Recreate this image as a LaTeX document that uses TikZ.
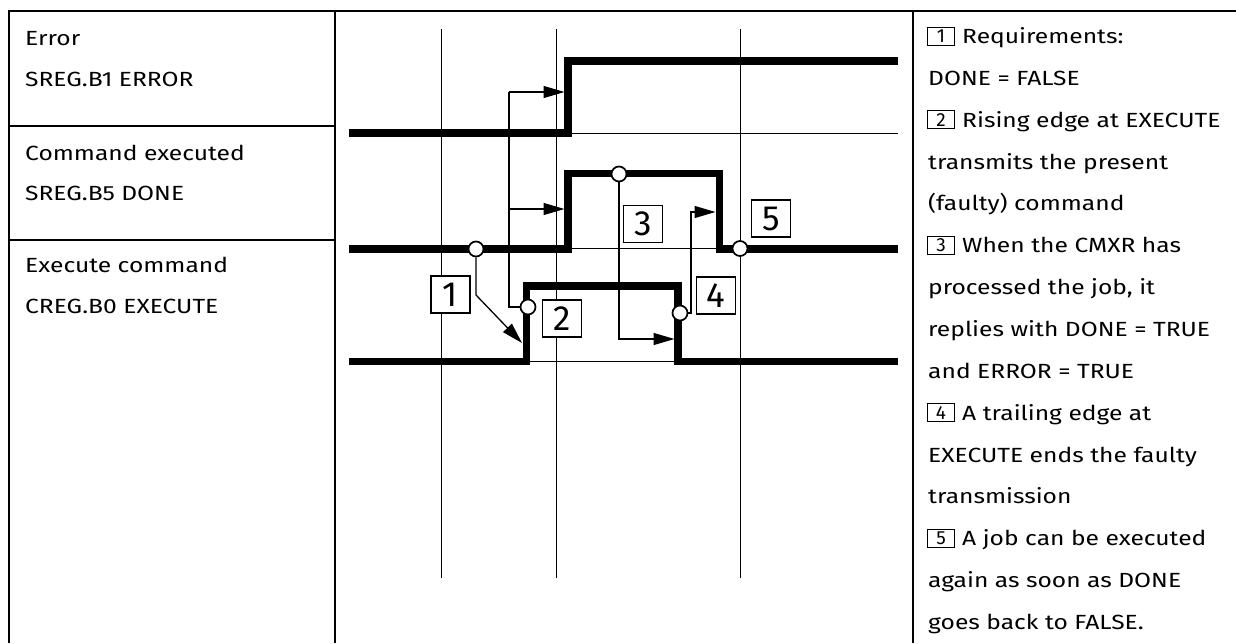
\documentclass[tikz,border=0pt]{standalone}
\usepackage{fontspec}
\setmainfont{Fira Sans}[FakeStretch=1.2]
\newfontfamily\digitfont{Fira Sans}
\usetikzlibrary{arrows.meta}
\begin{document}
\begin{tikzpicture}[x=1pt,y=-1pt,
  sig/.style={line width=7.4pt, line cap=butt, line join=miter},
  base/.style={line width=1pt},
  gridline/.style={line width=1pt},
  frame/.style={line width=2.2pt},
  lead/.style={line width=1.3pt},
  arr/.style={line width=1.3pt, -{Triangle[length=21pt,width=12pt]}},
  dot/.style={circle, draw, fill=white, line width=1.7pt, minimum size=15pt, inner sep=0pt},
  bignum/.style={draw, fill=white, line width=1.5pt, minimum width=39pt, minimum height=37pt, inner sep=0pt, font=\digitfont\fontsize{35}{35}\selectfont},
  smallnum/.style={draw, line width=0.8pt, minimum width=27pt, minimum height=18pt, inner sep=0pt, font=\digitfont\fontsize{19}{19}\selectfont},
  txt/.style={anchor=base west, inner sep=0pt, font=\fontsize{20.5}{21}\selectfont}
]
\useasboundingbox (0,0) rectangle (1236,643);
% table frame
\draw[frame] (8,11) -- (1236,11);
\draw[frame] (9,10) -- (9,643);
\draw[frame] (335,10) -- (335,643);
\draw[frame] (913,10) -- (913,643);
\draw[frame] (9,126) -- (335,126);
\draw[frame] (9,240) -- (335,240);
% left labels
\node[txt] (l1a) at (25,45) {Error};
\node[txt] (l1b) at (25,86) {SREG.B1 ERROR};
\node[txt] (l2a) at (25,160) {Command executed};
\node[txt] (l2b) at (25,200) {SREG.B5 DONE};
\node[txt] (l3a) at (25,272) {Execute command};
\node[txt] (l3b) at (25,313) {CREG.B0 EXECUTE};
% grid lines
\draw[gridline] (441,29) -- (441,578);
\draw[gridline] (556,29) -- (556,578);
\draw[gridline] (740,29) -- (740,578);
% baselines
\draw[base] (568,133) -- (898,133);
\draw[base] (568,248) -- (719.5,248);
\draw[base] (526.5,361) -- (678,361);
% signals
\draw[sig] (349,133) -- (568,133) -- (568,61) -- (898,61);
\draw[sig] (349,249) -- (568,249) -- (568,173.5) -- (719.5,173.5) -- (719.5,249) -- (898,249);
\draw[sig] (349,361.7) -- (526.5,361.7) -- (526.5,286) -- (678,286) -- (678,361.7) -- (898,361.7);
% arrow end points
\coordinate (t1) at (522,343);
\coordinate (t2a) at (564.5,92);
\coordinate (t2b) at (564.5,209);
\coordinate (t3) at (674.5,339);
\coordinate (t4) at (715.5,212);
% circles
\node[dot] (c1) at (476,249) {};
\node[dot] (c2) at (528,307) {};
\node[dot] (c3) at (619,174) {};
\node[dot] (c4) at (680,313) {};
\node[dot] (c5) at (740,248.5) {};
% connectors
\draw[arr] (c1.south) -- (476,295) -- (t1);
\draw[lead] (c2.west) -- (509,307) -- (509,92);
\draw[arr] (509,92) -- (t2a);
\draw[arr] (509,209) -- (t2b);
\draw[arr] (c3.south) -- (619,339) -- (t3);
\draw[arr] (c4.east) -- (691,313) -- (691,212) -- (t4);
% big labels
\node[bignum] (b1) at (450.5,294.5) {1};
\node[bignum] (b2) at (562,318.5) {2};
\node[bignum] (b3) at (643,224) {3};
\node[bignum] (b4) at (716,295.5) {4};
\node[bignum] (b5) at (771,218.5) {5};
% right column
\node[smallnum] (s1) at (941,36) {1};
\node[txt] (r1) at (962,43.5) {Requirements:};
\node[txt] (r2) at (928,85.35) {DONE = FALSE};
\node[smallnum] (s2) at (941,119.7) {2};
\node[txt] (r3) at (962,127.2) {Rising edge at EXECUTE};
\node[txt] (r4) at (928,169.05) {transmits the present};
\node[txt] (r5) at (928,210.9) {(faulty) command};
\node[smallnum] (s3) at (941,245.25) {3};
\node[txt] (r6) at (962,252.75) {When the CMXR has};
\node[txt] (r7) at (928,294.6) {processed the job, it};
\node[txt] (r8) at (928,336.45) {replies with DONE = TRUE};
\node[txt] (r9) at (928,378.3) {and ERROR = TRUE};
\node[smallnum] (s4) at (941,412.65) {4};
\node[txt] (r10) at (962,420.15) {A trailing edge at};
\node[txt] (r11) at (928,462) {EXECUTE ends the faulty};
\node[txt] (r12) at (928,503.85) {transmission};
\node[smallnum] (s5) at (941,538.2) {5};
\node[txt] (r13) at (962,545.7) {A job can be executed};
\node[txt] (r14) at (928,587.55) {again as soon as DONE};
\node[txt] (r15) at (928,629.4) {goes back to FALSE.};
\end{tikzpicture}
\end{document}
